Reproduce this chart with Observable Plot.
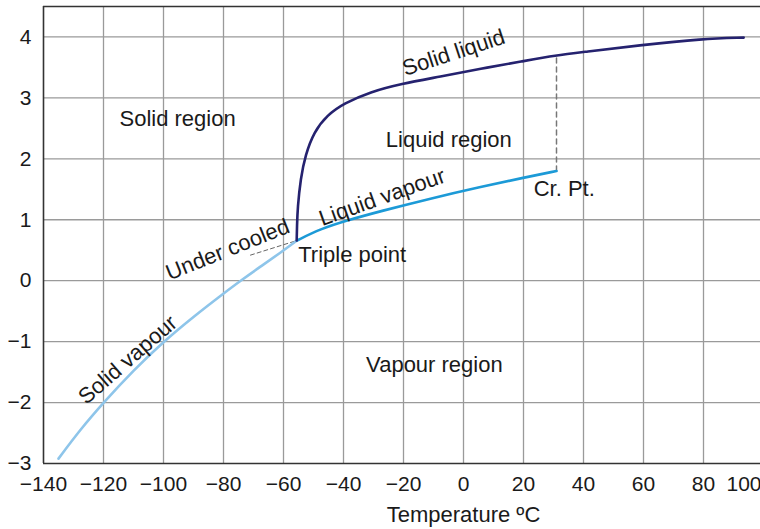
<!DOCTYPE html>
<html>
<head>
<meta charset="utf-8">
<script src="https://cdn.jsdelivr.net/npm/d3@7"></script>
<script src="https://cdn.jsdelivr.net/npm/@observablehq/plot@0.6"></script>
<style>
  html, body { margin: 0; padding: 0; background: #fff; }
  #chart svg { display: block; }
</style>
</head>
<body>
<div id="chart"></div>
<script>
// Tick values
const xTicks = [-140, -120, -100, -80, -60, -40, -20, 0, 20, 40, 60, 80];
const xTickLast = [100];
const yTicks = [-3, -2, -1, 0, 1, 2, 3, 4];

// Solid–vapour curve (temperature °C, log pressure)
const solidVapourT = [-135, -127.7, -120, -110, -100, -90, -80, -74.3, -67.7, -61, -55.5];
const solidVapourP = [-2.92, -2.44, -2.0, -1.47, -1.0, -0.59, -0.21, 0.0, 0.23, 0.46, 0.66];

// Liquid–vapour curve
const liquidVapourT = [-55.5, -47.7, -38.8, -27.7, -11, 5.7, 20, 31];
const liquidVapourP = [0.66, 0.85, 0.99, 1.14, 1.35, 1.54, 1.69, 1.80];

// Solid–liquid curve
const solidLiquidT = [-55.6, -55.5, -55.3, -54.3, -52.7, -49.9, -45.4, -39.9, -31, -21, -7.7, 5.7, 19.6, 31, 39.6, 59.6, 79.6, 93.4];
const solidLiquidP = [0.66, 0.9, 1.19, 1.68, 2.06, 2.44, 2.72, 2.91, 3.10, 3.23, 3.35, 3.48, 3.60, 3.70, 3.75, 3.87, 3.97, 3.99];

// Under-cooled dashed extension
const underCooledT = [-71, -55.5];
const underCooledP = [0.42, 0.66];

// Critical point dashed vertical
const critT = [31, 31];
const critP = [1.80, 3.70];

// Region labels (centered)
const regionText = ["Solid region", "Liquid region", "Vapour region"];
const regionT = [-95.3, -4.9, -9.7];
const regionP = [2.66, 2.31, -1.38];

// Point labels (left aligned)
const pointText = ["Triple point", "Cr. Pt."];
const pointT = [-55.1, 23.4];
const pointP = [0.43, 1.51];

// Curve labels (rotated)
const curveLabelText = ["Solid vapour", "Under cooled", "Liquid vapour", "Solid liquid"];
const curveLabelT = [-111.9, -78.6, -27.1, -3.3];
const curveLabelP = [-1.3, 0.51, 1.37, 3.74];
const curveLabelAngle = [-41, -21.8, -19.6, -18.2];

const xLabel = "Temperature ºC";

const zip = (xs, ys) => xs.map((x, i) => ({x, y: ys[i]}));

const FONT = "Liberation Sans, Arial, Helvetica, sans-serif";
const FS = 21;   // tick labels
const LS = 22;   // annotation labels

const regions = regionText.map((t, i) => ({t, x: regionT[i], y: regionP[i]}));
const points = pointText.map((t, i) => ({t, x: pointT[i], y: pointP[i]}));
const curveLabels = curveLabelText.map((t, i) => ({t, x: curveLabelT[i], y: curveLabelP[i], r: curveLabelAngle[i]}));

const minus = s => String(s).replace("-", "\u2212");

const chart = Plot.plot({
  width: 760,
  height: 529,
  marginLeft: 43,
  marginRight: 0,
  marginTop: 6,
  marginBottom: 66,
  style: {fontFamily: FONT, fontSize: FS + "px", color: "#1a1a1a", background: "#fff"},
  x: {domain: [-140, 99]},
  y: {domain: [-3, 4.5]},
  marks: [
    // grid
    Plot.ruleX(xTicks.slice(1), {stroke: "#9a9a9a", strokeWidth: 1.3}),
    Plot.ruleY(yTicks.slice(1), {stroke: "#9a9a9a", strokeWidth: 1.3}),
    // frame
    Plot.ruleX([-140], {stroke: "#333", strokeWidth: 1.6}),
    Plot.ruleY([-3], {stroke: "#333", strokeWidth: 1.6}),
    Plot.ruleY([4.5], {stroke: "#333", strokeWidth: 1.6}),
    // axes
    Plot.axisX(xTicks, {tickSize: 0, tickPadding: 13, fontSize: FS, tickFormat: minus, label: null}),
    Plot.axisX(xTickLast, {tickSize: 0, tickPadding: 13, fontSize: FS, textAnchor: "end", dx: -2, label: null}),
    Plot.axisY(yTicks, {tickSize: 0, tickPadding: 12, fontSize: FS, tickFormat: minus, label: null}),
    Plot.text([xLabel], {x: 0, y: -3, text: d => d, dy: 51, fontSize: LS, lineAnchor: "middle", fill: "#1a1a1a"}),
    // dashed helpers
    Plot.line(zip(underCooledT, underCooledP), {x: "x", y: "y", stroke: "#666", strokeWidth: 1, strokeDasharray: "4,3"}),
    Plot.line(zip(critT, critP), {x: "x", y: "y", stroke: "#777", strokeWidth: 1.5, strokeDasharray: "5,4"}),
    // curves
    Plot.line(zip(solidVapourT, solidVapourP), {x: "x", y: "y", stroke: "#8ec5ea", strokeWidth: 2.6, curve: "basis"}),
    Plot.line(zip(liquidVapourT, liquidVapourP), {x: "x", y: "y", stroke: "#1c9ad7", strokeWidth: 2.6, curve: "basis"}),
    Plot.line(zip(solidLiquidT, solidLiquidP), {x: "x", y: "y", stroke: "#25226f", strokeWidth: 2.6, curve: "basis"}),
    // labels
    Plot.text(regions, {x: "x", y: "y", text: "t", textAnchor: "middle", fontSize: LS, fill: "#1a1a1a", lineAnchor: "middle"}),
    Plot.text(points, {x: "x", y: "y", text: "t", textAnchor: "start", fontSize: LS, fill: "#1a1a1a", lineAnchor: "middle"}),
    ...curveLabels.map(d => Plot.text([d], {x: "x", y: "y", text: "t", rotate: d.r, fontSize: LS, fill: "#1a1a1a", lineAnchor: "middle"}))
  ]
});
document.getElementById("chart").appendChild(chart);
</script>
</body>
</html>
